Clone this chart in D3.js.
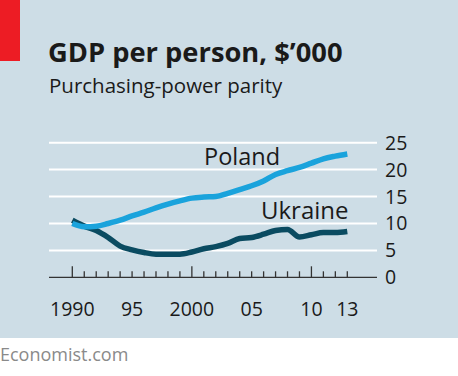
<!DOCTYPE html>
<html>
<head>
<meta charset="utf-8">
<script src="https://cdn.jsdelivr.net/npm/d3@7"></script>
<style>
  body { margin: 0; background: #fff; }
  svg text { font-family: "Open Sans", sans-serif; }
</style>
</head>
<body>
<div id="chart"></div>
<script>
// data ($'000, PPP)
const years = d3.range(1990, 2014);
const poland = [10.0, 9.4, 9.5, 10.0, 10.6, 11.4, 12.1, 12.9, 13.6, 14.2, 14.7, 14.9,
                15.0, 15.6, 16.3, 17.0, 17.9, 19.1, 19.8, 20.4, 21.2, 22.0, 22.5, 22.9];
const ukraine = [10.6, 9.5, 8.7, 7.4, 5.8, 5.1, 4.6, 4.3, 4.3, 4.3, 4.7, 5.3,
                 5.7, 6.3, 7.2, 7.4, 8.0, 8.7, 8.9, 7.5, 7.9, 8.3, 8.3, 8.5];
const yTicks = [0, 5, 10, 15, 20, 25];
const xLabels = [[1990, "1990"], [1995, "95"], [2000, "2000"], [2005, "05"], [2010, "10"], [2013, "13"]];

const width = 458, height = 376;

const svg = d3.select("#chart")
    .append("svg")
    .attr("width", width)
    .attr("height", height);

// panel background + red tag
svg.append("rect").attr("x", 0).attr("y", 0).attr("width", width).attr("height", 338).attr("fill", "#cddde6");
svg.append("rect").attr("x", 0).attr("y", 0).attr("width", 20).attr("height", 61).attr("fill", "#ed1c24");

svg.append("text")
    .attr("x", 48).attr("y", 62)
    .attr("font-size", 27.3).attr("font-weight", "bold").attr("fill", "#1a1a1a")
    .text("GDP per person, $\u2019000");
svg.append("text")
    .attr("x", 49).attr("y", 93)
    .attr("font-size", 20.5).attr("fill", "#1a1a1a")
    .text("Purchasing-power parity");

const x = d3.scaleLinear().domain([1990, 2013]).range([72.3, 347.3]);
const y = d3.scaleLinear().domain([0, 25]).range([277.3, 142.7]);

// gridlines
svg.append("g")
    .selectAll("line")
    .data(yTicks.filter(d => d > 0))
    .join("line")
    .attr("x1", 49).attr("x2", 377)
    .attr("y1", d => y(d)).attr("y2", d => y(d))
    .attr("stroke", "#fff").attr("stroke-width", 2);

// right y labels
svg.append("g")
    .selectAll("text")
    .data(yTicks)
    .join("text")
    .attr("x", 385).attr("y", d => y(d)).attr("dy", "0.36em")
    .attr("font-size", 19.5).attr("fill", "#1a1a1a")
    .text(d => d);

// x axis
svg.append("line")
    .attr("x1", 49).attr("x2", 377).attr("y1", y(0)).attr("y2", y(0))
    .attr("stroke", "#333").attr("stroke-width", 1.3);
svg.append("g")
    .selectAll("line")
    .data(years)
    .join("line")
    .attr("x1", d => x(d)).attr("x2", d => x(d))
    .attr("y1", d => d % 10 === 0 ? y(0) - 11 : y(0) - 6).attr("y2", y(0))
    .attr("stroke", "#333").attr("stroke-width", 1.3);
svg.append("g")
    .selectAll("text")
    .data(xLabels)
    .join("text")
    .attr("x", d => x(d[0])).attr("y", 316)
    .attr("text-anchor", "middle")
    .attr("font-size", 19.5).attr("fill", "#1a1a1a")
    .text(d => d[1]);

// lines
const line = d3.line()
    .x((d, i) => x(years[i]))
    .y(d => y(d))
    .curve(d3.curveMonotoneX);

svg.append("path").datum(ukraine)
    .attr("d", line).attr("fill", "none")
    .attr("stroke", "#0a4b61").attr("stroke-width", 5.5);
svg.append("path").datum(poland)
    .attr("d", line).attr("fill", "none")
    .attr("stroke", "#1aa3dc").attr("stroke-width", 5.5);

svg.append("text")
    .attr("x", 204).attr("y", 165)
    .attr("font-size", 23.5).attr("fill", "#1a1a1a")
    .text("Poland");
svg.append("text")
    .attr("x", 261).attr("y", 219)
    .attr("font-size", 24).attr("fill", "#1a1a1a")
    .text("Ukraine");

svg.append("text")
    .attr("x", 0).attr("y", 361)
    .attr("font-size", 18).attr("fill", "#8a8a8a")
    .text("Economist.com");
</script>
</body>
</html>
